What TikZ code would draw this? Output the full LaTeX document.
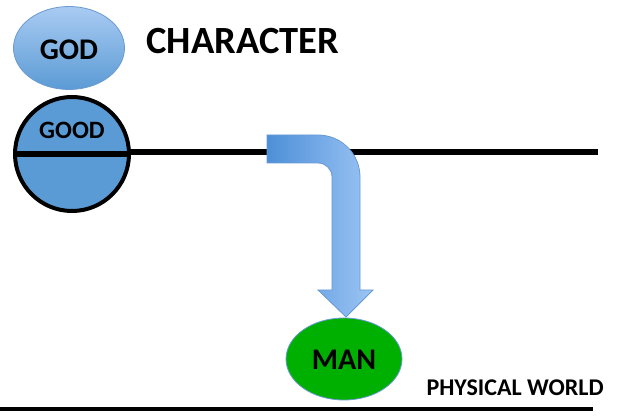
\documentclass[tikz,border=0pt]{standalone}
\usepackage{fontspec}
\setmainfont{Carlito}
\usetikzlibrary{shapes.geometric}
\definecolor{lblue}{HTML}{A9CBF2}
\definecolor{mblue}{HTML}{5B9BD5}
\definecolor{eborder}{HTML}{6A9AD2}
\definecolor{manGreen}{HTML}{00B000}
\definecolor{arrDark}{HTML}{4D8FD8}
\definecolor{arrLight}{HTML}{9CC5F4}
\tikzset{
  lbl/.style={font=\bfseries, text=black},
}
\begin{document}
\begin{tikzpicture}[x=1pt,y=1pt]
\useasboundingbox (0,0) rectangle (618,415);
% GOD ellipse
\node[ellipse, minimum width=111, minimum height=83, inner sep=0,
  top color=lblue, bottom color=mblue, draw=eborder, line width=0.8]
  (god) at (69,367) {};
\node[lbl, font=\fontsize{30}{34}\bfseries] (godt) at (69,365) {GOD};
% CHARACTER
\node[lbl, font=\fontsize{38.5}{44}\bfseries, anchor=west] (char) at (143,374) {CHARACTER};
% horizontal line
\coordinate (hl) at (15,263);
\coordinate (hr) at (598,263);
\draw[line width=6] (hl) -- (hr);
% GOOD circle
\node[circle, minimum size=114, inner sep=0, fill=mblue, draw=black, line width=4]
  (good) at (72,261) {};
\draw[line width=6] (good.west) -- (good.east);
\node[lbl, font=\fontsize{25}{29}\bfseries] (goodt) at (72,285) {GOOD};
% bent arrow
\path[shading=axis, left color=arrDark, right color=arrLight, draw=eborder, line width=0.8]
  (267,280) -- (318,280) arc[start angle=90, end angle=0, radius=42]
  -- (360,125) -- (373,125) -- (346,98) -- (318,125) -- (332,125)
  -- (332,238) arc[start angle=0, end angle=90, radius=14]
  -- (267,252) -- cycle;
% MAN ellipse
\node[ellipse, minimum width=116, minimum height=82, inner sep=0,
  fill=manGreen, draw=eborder, line width=0.8]
  (man) at (344,56) {};
\node[lbl, font=\fontsize{30}{34}\bfseries] (mant) at (344,55) {MAN};
% PHYSICAL WORLD
\node[lbl, font=\fontsize{24}{28}\bfseries, anchor=west] (pw) at (423,27) {PHYSICAL WORLD};
% bottom line
\coordinate (bl) at (0,6);
\coordinate (br) at (593,6);
\draw[line width=4.5] (bl) -- (br);
\end{tikzpicture}
\end{document}
